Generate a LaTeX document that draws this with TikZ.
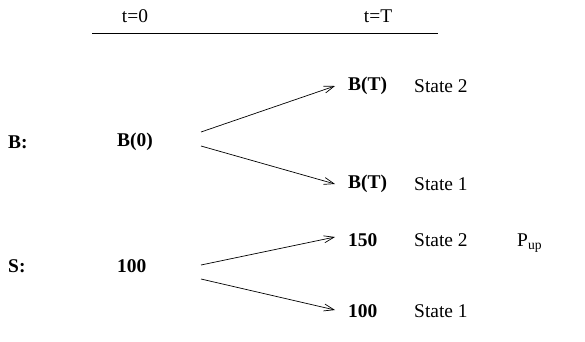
\documentclass[tikz,border=0pt]{standalone}
\usepackage{fontspec}
\setmainfont{Liberation Serif}
\usetikzlibrary{arrows.meta}
\tikzset{
    every node/.style={font=\fontsize{19.5}{21}\selectfont},
}
\begin{document}
\begin{tikzpicture}[x=1bp, y=-1bp,
        lab/.style={anchor=west,inner sep=0pt},
        val/.style={anchor=west,inner sep=0pt,font=\fontsize{19.5}{21}\selectfont\bfseries},
        arr/.style={-{Straight Barb[length=10bp,width=7bp]},line width=0.7bp}
    ]
    \useasboundingbox (0,0) rectangle (585,341);

    % intestazione
    \node (tzero) at (135,16) {t=0};
    \node (tend) at (378,16) {t=T};
    \draw[line width=0.7bp] (92,33) -- (438,33);

    % obbligazione
    \node[val] (blab) at (8,142) {B:};
    \node[val] (bzero) at (117,142) {B(0)};
    \node[val] (bup) at (348,86) {B(T)};
    \node[lab] (bupst) at (414,86) {State 2};
    \node[val] (bdn) at (348,184) {B(T)};
    \node[lab] (bdnst) at (414,184) {State 1};

    % azione
    \node[val] (slab) at (8,266) {S:};
    \node[val] (szero) at (117,266) {100};
    \node[val] (sup150) at (348,240) {150};
    \node[lab] (sup150st) at (414,240) {State 2};
    \node[lab] (pup) at (517,243) {P\textsubscript{up}};
    \node[val] (sdn100) at (348,311) {100};
    \node[lab] (sdn100st) at (414,311) {State 1};

    % rami
    \draw[arr] ([xshift=84bp,yshift=10bp]bzero.west) -- ([xshift=-13bp]bup.west);
    \draw[arr] ([xshift=84bp,yshift=-4bp]bzero.west) -- ([xshift=-13bp]bdn.west);
    \draw[arr] ([xshift=84bp,yshift=1bp]szero.west) -- ([xshift=-13bp,yshift=3bp]sup150.west);
    \draw[arr] ([xshift=84bp,yshift=-13bp]szero.west) -- ([xshift=-13bp,yshift=1bp]sdn100.west);
\end{tikzpicture}
\end{document}
